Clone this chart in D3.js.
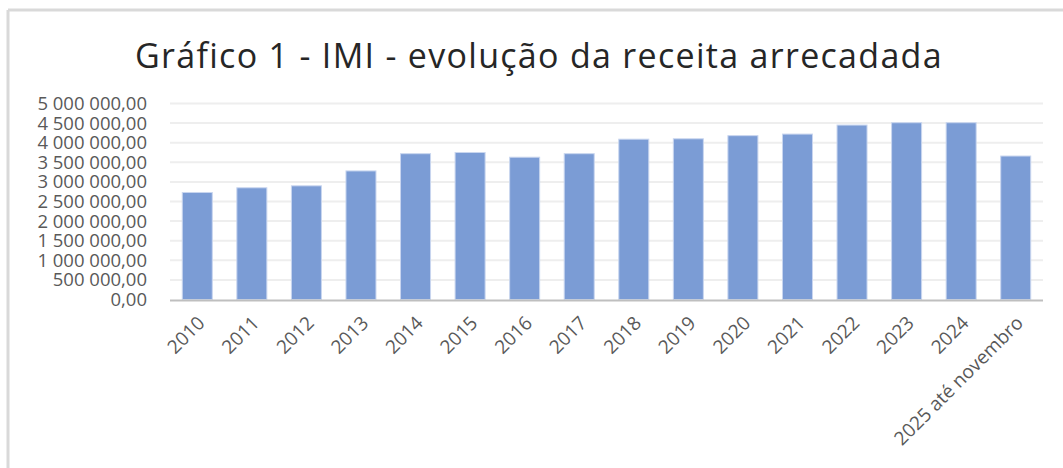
<!DOCTYPE html>
<meta charset="utf-8">
<body style="margin:0; background:#fff;">
<script src="https://d3js.org/d3.v7.min.js"></script>
<svg id="chart" width="1063" height="468"></svg>
<script>
// data
var categories = ["2010","2011","2012","2013","2014","2015","2016","2017","2018","2019","2020","2021","2022","2023","2024","2025 até novembro"];
var receita = [2730000, 2850000, 2900000, 3280000, 3720000, 3750000, 3630000, 3720000, 4090000, 4100000, 4180000, 4220000, 4450000, 4510000, 4510000, 3660000];
var yTicks = [0, 500000, 1000000, 1500000, 2000000, 2500000, 3000000, 3500000, 4000000, 4500000, 5000000];
var title = "Gráfico 1 - IMI - evolução da receita arrecadada";

var svg = d3.select("#chart"),
    width = +svg.attr("width"),
    height = +svg.attr("height");

var fontFam = "'Open Sans', 'Noto Sans', sans-serif";

// frame (only top and left edges show)
svg.append("line").attr("x1", 8).attr("x2", width).attr("y1", 10).attr("y2", 10)
   .style("stroke", "#d9d9d9").style("stroke-width", 3);
svg.append("line").attr("x1", 8).attr("x2", 8).attr("y1", 10).attr("y2", height)
   .style("stroke", "#d9d9d9").style("stroke-width", 3);

var plotL = 170, plotR = 1043, plotT = 103.5, plotB = 299.5;

var x = d3.scaleBand().domain(categories).range([plotL, plotR]).paddingInner(0.45).paddingOuter(0.225);
var y = d3.scaleLinear().domain([0, 5000000]).range([plotB, plotT]);

// gridlines
svg.append("g")
   .selectAll("line")
   .data(yTicks.slice(1))
   .enter()
   .append("line")
     .attr("x1", plotL).attr("x2", plotR)
     .attr("y1", d => y(d)).attr("y2", d => y(d))
     .style("stroke", "#eeeeee").style("stroke-width", 2);

// y labels
var fmt = function(d) {
  var s = d3.format(",.2f")(d);
  return s.replace(/,/g, " ").replace(".", ",");
};
var yAxis = d3.axisLeft(y).tickValues(yTicks).tickFormat(fmt).tickSize(0).tickPadding(0);
var gy = svg.append("g").attr("transform", "translate(147,0)").call(yAxis);
gy.select(".domain").remove();
gy.selectAll("text").style("font-family", fontFam).style("font-size", "18.5px").style("fill", "#595959");

// bars
svg.append("g")
   .selectAll("rect")
   .data(receita)
   .enter()
   .append("rect")
     .attr("x", (d, i) => x(categories[i]))
     .attr("width", x.bandwidth())
     .attr("y", d => y(d))
     .attr("height", d => y(0) - y(d))
     .attr("fill", "#7b9cd5")
     .style("stroke", "#c9d6ef")
     .style("stroke-width", 1);

// baseline
svg.append("line").attr("x1", plotL).attr("x2", plotR).attr("y1", y(0) + 1).attr("y2", y(0) + 1)
   .style("stroke", "#bfbfbf").style("stroke-width", 2);

// x labels
var xAxis = d3.axisBottom(x).tickSize(0).tickPadding(0);
var gx = svg.append("g").attr("transform", "translate(0," + (plotB + 20) + ")").call(xAxis);
gx.select(".domain").remove();
gx.selectAll("text")
   .style("font-family", fontFam).style("font-size", "19px").style("fill", "#595959")
   .attr("text-anchor", "end")
   .attr("y", 0)
   .attr("dy", "0.35em")
   .attr("transform", "translate(4,0) rotate(-45)");

// title
svg.append("text")
   .attr("x", 539).attr("y", 68)
   .attr("text-anchor", "middle")
   .style("font-family", fontFam).style("font-size", "34px").style("fill", "#262626")
   .style("letter-spacing", "1.3px")
   .text(title);
</script>
</body>
